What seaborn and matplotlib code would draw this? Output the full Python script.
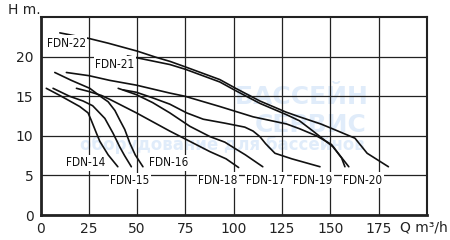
import matplotlib
matplotlib.use("Agg")
import matplotlib.pyplot as plt
import seaborn as sns
import pandas as pd

# ---- data (Q m3/h, H m) ----
fdn14_q = [3, 10, 20.3, 24.6, 26.2, 29, 30.7, 35, 40]
fdn14_h = [16.0, 15.1, 13.7, 12.9, 12.0, 10.3, 9.3, 7.6, 6.1]

fdn15_q = [6.5, 15, 22, 27, 33.3, 37.6, 41, 43.5, 47]
fdn15_h = [16.0, 15.0, 14.4, 13.8, 12.2, 10.3, 8.6, 7.5, 6.1]

fdn16_q = [7.4, 16, 25.5, 31.5, 35, 38.5, 41, 43.6, 46.2, 49, 53]
fdn16_h = [18.0, 17.0, 16.0, 14.9, 14.3, 13.2, 12.0, 10.8, 9.1, 7.6, 6.1]

fdn18_q = [18.6, 25, 31.5, 35.9, 49.6, 66.9, 77.3, 87.7, 96, 102.5]
fdn18_h = [16.0, 15.6, 15.1, 14.6, 12.9, 10.6, 9.3, 8.0, 7.1, 6.0]

fdn17_q = [40.2, 49.6, 58, 66.9, 77.3, 87.7, 95.4, 101.3, 106, 115]
fdn17_h = [16.0, 15.2, 14.2, 12.9, 11.2, 9.9, 9.2, 8.3, 7.6, 6.1]

fdn19_q = [42.8, 49.6, 58, 66.9, 75.6, 84.2, 95.4, 105.7, 110, 113.5, 116.5, 121.3, 130, 144.6]
fdn19_h = [15.8, 15.5, 14.8, 14.0, 12.9, 12.1, 11.6, 11.1, 10.6, 9.9, 9.0, 7.8, 7.1, 6.1]

fdn20_q = [13.4, 25, 35.9, 49.6, 66.9, 74.7, 92.8, 110, 127.3, 134, 142.8, 150.6, 155.8, 157.5]
fdn20_h = [18.0, 17.6, 17.0, 16.4, 15.4, 15.0, 13.7, 12.4, 11.5, 10.9, 10.0, 8.9, 7.2, 6.1]

fdn21_q = [45, 55, 67, 75, 92.8, 101, 113.5, 127, 134, 141, 151.4, 156.6, 159.5]
fdn21_h = [20.1, 19.6, 19.0, 18.4, 16.8, 15.7, 14.1, 12.7, 11.9, 10.6, 8.6, 7.0, 6.1]

fdn22_q = [10, 25, 35, 50, 60, 67, 75, 92.8, 101, 113.5, 127, 134, 145, 151, 162.7, 169, 180]
fdn22_h = [23.0, 22.3, 21.7, 20.7, 19.9, 19.4, 18.7, 17.1, 16.0, 14.4, 13.0, 12.4, 11.5, 10.9, 9.7, 7.8, 6.1]

curves = {
    "FDN-14": (fdn14_q, fdn14_h), "FDN-15": (fdn15_q, fdn15_h),
    "FDN-16": (fdn16_q, fdn16_h), "FDN-17": (fdn17_q, fdn17_h),
    "FDN-18": (fdn18_q, fdn18_h), "FDN-19": (fdn19_q, fdn19_h),
    "FDN-20": (fdn20_q, fdn20_h), "FDN-21": (fdn21_q, fdn21_h),
    "FDN-22": (fdn22_q, fdn22_h),
}

label_names = ["FDN-22", "FDN-21", "FDN-14", "FDN-15", "FDN-16",
               "FDN-18", "FDN-17", "FDN-19", "FDN-20"]
label_q = [13.3, 38.5, 23.4, 46.2, 66.4, 91.9, 116.7, 141.0, 166.8]
label_h = [21.7, 19.0, 6.6, 4.3, 6.6, 4.4, 4.4, 4.4, 4.4]

x_ticks = [0, 25, 50, 75, 100, 125, 150, 175]
y_ticks = [0, 5, 10, 15, 20]

rows = []
for name, (qs, hs) in curves.items():
    for i, (q, h) in enumerate(zip(qs, hs)):
        rows.append({"pump": name, "Q": q, "H": h, "order": i})
df = pd.DataFrame(rows)

sns.set_theme(style="white")
plt.rcParams["font.family"] = ["DejaVu Sans"]

fig = plt.figure(figsize=(4.5, 2.4), dpi=100)
ax = fig.add_axes([0.090, 0.104, 0.859, 0.825])

# watermark
wm = "#e0ecfa"
ax.text(0.675, 0.595, "БАССЕЙН", transform=ax.transAxes, ha="center", va="center",
        fontsize=18, fontweight="bold", color=wm, zorder=0)
ax.text(0.700, 0.455, "СЕРВИС", transform=ax.transAxes, ha="center", va="center",
        fontsize=18, fontweight="bold", color=wm, zorder=0)
ax.text(0.470, 0.355, "оборудование для бассейнов", transform=ax.transAxes, ha="center",
        va="center", fontsize=12, fontweight="bold", color=wm, zorder=0)

palette = {n: "#111111" for n in curves}
sns.lineplot(data=df, x="Q", y="H", hue="pump", units="pump", estimator=None,
             sort=False, palette=palette, linewidth=1.2, legend=False, ax=ax, zorder=3)

ax.set_xlim(0, 200)
ax.set_ylim(0, 25)
ax.set_xticks(x_ticks)
ax.set_yticks(y_ticks)
ax.set_xticklabels([str(v) for v in x_ticks])
ax.set_yticklabels([str(v) for v in y_ticks])
ax.set_xlabel("")
ax.set_ylabel("")
ax.grid(True, color="#222222", linewidth=0.9)
ax.set_axisbelow(True)
ax.tick_params(axis="both", direction="out", length=4, width=1, color="#222222",
               labelsize=10, labelcolor="#222222", pad=1)
for side, sp in ax.spines.items():
    sp.set_color("#222222")
    sp.set_visible(True)
    sp.set_linewidth(2.0 if side in ("left", "bottom") else 1.5)

for name, q, h in zip(label_names, label_q, label_h):
    ax.text(q, h, name, ha="center", va="center", fontsize=8.5, family="DejaVu Sans",
            fontstretch="condensed", color="#111111", zorder=5,
            bbox=dict(facecolor="white", edgecolor="none", pad=1.2))

fig.text(0.018, 0.958, "H m.", ha="left", va="center", fontsize=10, color="#222222")
fig.text(0.888, 0.052, "Q m³/h", ha="left", va="center", fontsize=10, color="#222222")

fig.savefig("out.png", dpi=100)
